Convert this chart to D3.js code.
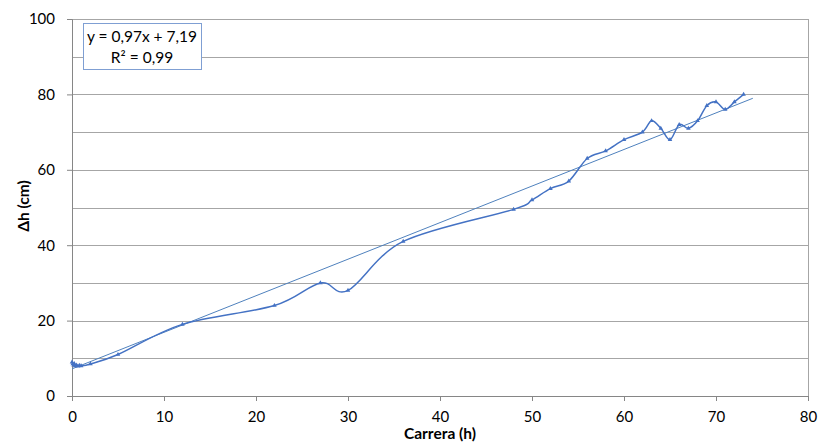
<!DOCTYPE html>
<html>
<head>
<meta charset="utf-8">
<script src="https://cdn.jsdelivr.net/npm/d3@7"></script>
<style>
  body { margin: 0; background: #fff; }
  svg { font-family: Lato, "Open Sans", sans-serif; }
</style>
</head>
<body>
<div id="chart"></div>
<script>
// Data
var hours = [0, 0.08, 0.17, 0.25, 0.33, 0.5, 0.67, 0.83, 1, 2, 5, 12, 22, 27, 30, 36,
             48, 50, 52, 54, 56, 58, 60, 62, 63, 64, 65, 66, 67, 68, 69, 70, 71, 72, 73];
var deltaH = [9, 8.5, 8.2, 8.6, 8, 8.2, 7.9, 8.1, 8, 8.5, 11, 19, 24, 30, 28, 41,
              49.5, 52, 55, 57, 63, 65, 68, 70, 73, 71, 68, 72, 71, 73, 77, 78, 76, 78, 80];
var xTicks = [0, 10, 20, 30, 40, 50, 60, 70, 80];
var yTicks = [0, 20, 40, 60, 80, 100];
var yGrid = [0, 10, 20, 30, 40, 50, 60, 70, 80, 90, 100];
var trendSlope = 0.97, trendIntercept = 7.19, trendEnd = 74;
var eqLines = ["y = 0,97x + 7,19", "R\u00b2 = 0,99"];

var svgWidth = 828;
var svgHeight = 445;
var margin = { top: 19, right: 20, bottom: 49, left: 72 };
var width = svgWidth - margin.left - margin.right;
var height = svgHeight - margin.top - margin.bottom;

var data = hours.map(function(h, i) { return { x: h, y: deltaH[i] }; });

var svg = d3.select("#chart").append("svg")
    .attr("width", svgWidth)
    .attr("height", svgHeight);

var chartGroup = svg.append("g")
    .attr("transform", `translate(${margin.left}, ${margin.top})`);

var xScale = d3.scaleLinear().domain([0, 80]).range([0, width]);
var yScale = d3.scaleLinear().domain([0, 100]).range([height, 0]);

// gridlines every 10
chartGroup.append("g")
    .selectAll("line")
    .data(yGrid)
    .enter()
    .append("line")
    .attr("x1", 0)
    .attr("x2", width)
    .attr("y1", d => Math.round(yScale(d)) + 0.5)
    .attr("y2", d => Math.round(yScale(d)) + 0.5)
    .attr("stroke", "#a6a6a6")
    .attr("stroke-width", 1);

// right border of plot area
chartGroup.append("line")
    .attr("x1", Math.round(width) + 0.5).attr("x2", Math.round(width) + 0.5)
    .attr("y1", 0).attr("y2", height)
    .attr("stroke", "#a6a6a6");

// axes
var bottomAxis = d3.axisBottom(xScale).tickValues(xTicks).tickSize(5).tickPadding(10);
var leftAxis = d3.axisLeft(yScale).tickValues(yTicks).tickSize(5).tickPadding(12);

var gx = chartGroup.append("g")
    .attr("transform", `translate(0, ${height})`)
    .call(bottomAxis);
var gy = chartGroup.append("g")
    .call(leftAxis);

[gx, gy].forEach(function(g) {
    g.select(".domain").attr("stroke", "#868686");
    g.selectAll(".tick line").attr("stroke", "#868686");
    g.selectAll(".tick text")
        .attr("fill", "#000")
        .style("font-size", "15px")
        .style("font-family", "Lato, sans-serif");
});

// trend line
chartGroup.append("line")
    .attr("x1", xScale(0))
    .attr("y1", yScale(trendIntercept))
    .attr("x2", xScale(trendEnd))
    .attr("y2", yScale(trendSlope * trendEnd + trendIntercept))
    .attr("stroke", "#4f81bd")
    .attr("stroke-width", 1);

// smoothed data line
var line = d3.line()
    .x(d => xScale(d.x))
    .y(d => yScale(d.y))
    .curve(d3.curveCatmullRom.alpha(0));

chartGroup.append("path")
    .datum(data)
    .attr("d", line)
    .attr("fill", "none")
    .attr("stroke", "#4472c4")
    .attr("stroke-width", 1.5);

// markers
chartGroup.selectAll(".marker")
    .data(data)
    .enter()
    .append("path")
    .attr("class", "marker")
    .attr("transform", d => `translate(${xScale(d.x)}, ${yScale(d.y)})`)
    .attr("d", d3.symbol().type(d3.symbolTriangle).size(9))
    .attr("fill", "#4472c4");

// equation box
var box = svg.append("g");
box.append("rect")
    .attr("x", 83.5).attr("y", 23.5)
    .attr("width", 118).attr("height", 46)
    .attr("fill", "#fff")
    .attr("stroke", "#7f9fd3")
    .attr("stroke-width", 1);
box.selectAll("text")
    .data(eqLines)
    .enter()
    .append("text")
    .attr("x", 142)
    .attr("y", (d, i) => 42 + i * 21)
    .attr("text-anchor", "middle")
    .style("font-size", "15.5px")
    .text(d => d);

// axis titles
svg.append("text")
    .attr("x", margin.left + width / 2)
    .attr("y", 438.5)
    .attr("text-anchor", "middle")
    .style("font-size", "15.5px")
    .style("font-weight", "bold")
    .text("Carrera (h)");

svg.append("text")
    .attr("transform", "translate(29, 206) rotate(-90)")
    .attr("text-anchor", "middle")
    .style("font-size", "15.5px")
    .style("font-weight", "bold")
    .text("\u0394h (cm)");
</script>
</body>
</html>
